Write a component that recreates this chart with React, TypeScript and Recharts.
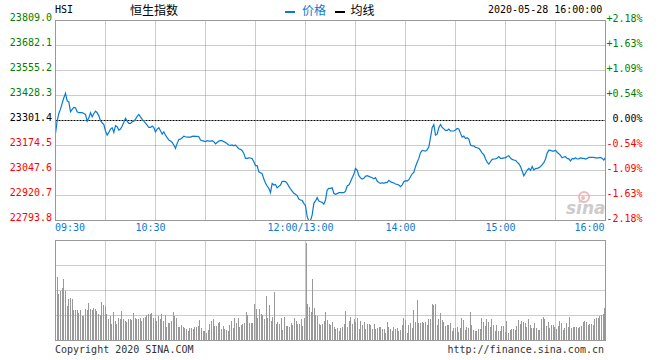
import React from 'react';
import { LineChart, Line, BarChart, Bar, XAxis, YAxis, CartesianGrid, ReferenceLine } from 'recharts';

const PREV_CLOSE = 23301.4;
const PRICE_TICKS = [22793.8, 22920.7, 23047.6, 23174.5, 23301.4, 23428.3, 23555.2, 23682.1, 23809.0];
const TIME_TICKS = [0, 60, 150, 210, 270, 330];
const TIME_LABELS: Record<number, string> = {
  0: '09:30', 60: '10:30', 150: '12:00/13:00', 210: '14:00', 270: '15:00', 330: '16:00',
};
// 30-minute grid columns, minutes after 09:30 (lunch break removed)
const GRID_MINUTES = [30, 60, 90, 120, 150, 180, 210, 240, 270, 300];
const SESSION_MINUTES = 330;

// one point per minute, 09:30 .. 12:00 / 13:00 .. 16:00
const PRICES = [
  23236, 23300, 23337, 23359, 23388, 23417, 23439, 23401, 23396, 23346,
  23358, 23368, 23366, 23346, 23341, 23341, 23341, 23337, 23332, 23298,
  23315, 23341, 23320, 23337, 23349, 23341, 23325, 23300, 23290, 23281,
  23248, 23227, 23241, 23258, 23265, 23241, 23275, 23270, 23253, 23258,
  23273, 23292, 23312, 23298, 23287, 23287, 23295, 23298, 23308, 23322,
  23332, 23320, 23307, 23298, 23288, 23278, 23266, 23266, 23273, 23265,
  23244, 23258, 23265, 23249, 23232, 23244, 23227, 23214, 23202, 23197,
  23190, 23177, 23160, 23185, 23205, 23207, 23214, 23222, 23219, 23217,
  23217, 23217, 23221, 23222, 23221, 23221, 23219, 23202, 23199, 23197,
  23194, 23199, 23197, 23197, 23199, 23194, 23183, 23190, 23197, 23199,
  23199, 23194, 23190, 23183, 23177, 23175, 23177, 23173, 23177, 23168,
  23158, 23155, 23148, 23134, 23109, 23109, 23112, 23111, 23107, 23092,
  23072, 23072, 23041, 23036, 23031, 23004, 22984, 22969, 22957, 22935,
  22982, 22974, 22977, 22960, 22967, 22974, 22992, 22992, 22991, 22982,
  22967, 22954, 22943, 22932, 22927, 22920, 22903, 22898, 22896, 22881,
  22869, 22813, 22791, 22793, 22822, 22881, 22893, 22910, 22893, 22889,
  22886, 22877, 22898, 22948, 22957, 22957, 22960, 22932, 22927, 22930,
  22935, 22935, 22935, 22935, 22943, 22969, 22974, 22991, 23011, 23028,
  23058, 23050, 23021, 23011, 23004, 23008, 23018, 23021, 23018, 23014,
  23011, 23006, 23011, 22994, 22987, 22982, 22986, 22982, 22987, 22986,
  22998, 22991, 22987, 22984, 22979, 22977, 22974, 22966, 22974, 22991,
  22996, 22994, 23001, 23016, 23031, 23038, 23067, 23089, 23109, 23138,
  23150, 23148, 23146, 23153, 23168, 23214, 23265, 23281, 23227, 23232,
  23265, 23281, 23266, 23259, 23251, 23251, 23258, 23249, 23248, 23248,
  23253, 23261, 23258, 23236, 23217, 23222, 23210, 23214, 23207, 23177,
  23173, 23173, 23165, 23163, 23160, 23150, 23136, 23128, 23106, 23090,
  23080, 23092, 23104, 23106, 23106, 23111, 23118, 23109, 23109, 23112,
  23112, 23119, 23123, 23111, 23104, 23101, 23099, 23090, 23082, 23068,
  23045, 23021, 23035, 23050, 23058, 23048, 23068, 23050, 23057, 23058,
  23062, 23068, 23077, 23087, 23106, 23136, 23151, 23150, 23146, 23146,
  23150, 23140, 23133, 23124, 23112, 23116, 23118, 23109, 23107, 23096,
  23109, 23106, 23112, 23106, 23107, 23112, 23109, 23109, 23106, 23109,
  23114, 23114, 23114, 23114, 23112, 23112, 23112, 23114, 23109, 23101,
  23114,
];

// per-minute volume, relative units (scale max = 100)
const VOLUMES = [
  64, 47, 50, 53, 62, 50, 35, 42, 43, 42,
  31, 31, 31, 28, 31, 25, 25, 32, 31, 38,
  32, 31, 33, 32, 30, 27, 26, 39, 36, 35,
  27, 22, 25, 17, 29, 20, 17, 23, 22, 30,
  22, 20, 19, 22, 22, 21, 28, 23, 22, 22,
  23, 20, 23, 24, 26, 27, 27, 28, 23, 23,
  20, 25, 22, 27, 20, 26, 14, 18, 18, 20,
  29, 25, 23, 14, 14, 16, 14, 13, 12, 10,
  13, 13, 12, 14, 14, 15, 21, 13, 10, 10,
  8, 11, 17, 20, 22, 15, 15, 18, 19, 12,
  15, 12, 11, 10, 16, 20, 13, 23, 18,
  23, 14, 16, 17, 18, 29, 26, 18, 18, 18,
  37, 32, 23, 32, 27, 26, 22, 45, 23, 36,
  20, 24, 49, 17, 19, 17, 23, 11, 24, 15,
  15, 14, 18, 16, 23, 20, 17, 17, 22, 15,
  23, 98, 37, 34, 29, 62, 33, 26, 25, 17,
  16, 17, 20, 29, 21, 17, 16, 19, 14, 12,
  13, 10, 13, 14, 17, 30, 14, 20, 24, 17,
  22, 19, 23, 12, 20, 16, 19, 12, 17, 17,
  16, 12, 17, 12, 13, 14, 14, 12, 12, 8,
  19, 14, 12, 10, 14, 12, 13, 10, 11, 16,
  23, 21, 8, 16, 18, 13, 31, 19, 41, 18,
  18, 19, 18, 19, 16, 22, 22, 37, 36, 37,
  16, 22, 28, 21, 19, 15, 16, 16, 18, 10,
  13, 13, 14, 9, 13, 23, 21, 11, 14, 13,
  29, 16, 11, 10, 10, 12, 12, 23, 19, 15,
  22, 19, 14, 22, 16, 10, 16, 10, 10, 15,
  15, 9, 20, 8, 11, 12, 12, 11, 15, 21,
  17, 20, 19, 18, 14, 22, 16, 13, 13, 18,
  13, 11, 11, 22, 24, 22, 15, 19, 13, 16,
  16, 14, 12, 15, 20, 18, 11, 13, 18, 14,
  24, 13, 14, 14, 14, 13, 14, 15, 19, 20,
  19, 16, 17, 17, 16, 22, 23, 23, 25, 26,
  27, 33,
];

const priceData = PRICES.map((p, i) => ({ i, p }));
const volData = VOLUMES.map((v, i) => ({ i, v }));

const MONO = '"DejaVu Sans Mono", "Liberation Mono", monospace';
const CJK = '"Noto Sans CJK SC", "Noto Sans", sans-serif';
const BLUE = '#0a7bd2';
const GRID = '#999';
const P_MIN = PRICE_TICKS[0];
const P_MAX = PRICE_TICKS[PRICE_TICKS.length - 1];

const colorOf = (v: number) => (Math.abs(v - PREV_CLOSE) < 0.05 ? '#000' : v > PREV_CLOSE ? '#008000' : '#ff0000');

const pctLabel = (v: number) => {
  const pct = ((v - PREV_CLOSE) / PREV_CLOSE) * 100;
  if (Math.abs(pct) < 0.005) return '0.00%';
  return `${pct > 0 ? '+' : '-'}${Math.abs(pct).toFixed(2)}%`;
};

const LeftTick = ({ x, y, payload }: any) => (
  <text x={x - 3.5} y={y + 0.5} textAnchor="end" fill={colorOf(payload.value)} fontFamily={MONO} fontSize={10}>
    {payload.value.toFixed(1)}
  </text>
);

const RightTick = ({ x, y, payload }: any) => (
  <text x={x + 37} y={y + 1} textAnchor="end" fill={colorOf(payload.value)} fontFamily={MONO} fontSize={10}>
    {pctLabel(payload.value)}
  </text>
);

const TimeTick = ({ x, y, payload }: any) => {
  const v = payload.value;
  const anchor = v === 0 ? 'start' : v === SESSION_MINUTES ? 'end' : 'middle';
  const dx = v === 0 ? -0.5 : v === SESSION_MINUTES ? -1 : -5;
  return (
    <text x={x + dx} y={y + 10.5} textAnchor={anchor} fill={BLUE} fontFamily={MONO} fontSize={10}>
      {TIME_LABELS[v]}
    </text>
  );
};

const vGrid = ({ offset }: any) => GRID_MINUTES.map((m) => offset.left + (offset.width * m) / SESSION_MINUTES);

const priceHGrid = ({ offset }: any) =>
  PRICE_TICKS.slice(1, -1)
    .filter((v) => v !== PREV_CLOSE)
    .map((v) => offset.top + (offset.height * (P_MAX - v)) / (P_MAX - P_MIN));

const volHGrid = ({ offset }: any) => [1, 2, 3].map((k) => offset.top + (offset.height * k) / 4);

const VolBar = ({ x, y, width, height, fill }: any) => (
  <rect x={x} y={y} width={width} height={height} fill={fill} shapeRendering="crispEdges" />
);

const box = (top: number, height: number): React.CSSProperties => ({
  position: 'absolute', left: 55, top, width: 551, height, border: '1px solid #999', boxSizing: 'border-box', pointerEvents: 'none',
});

export default function App() {
  return (
    <div style={{ position: 'absolute', left: 0, top: 0, width: 660, height: 360, background: '#fff', overflow: 'hidden' }}>
      <div style={{ position: 'absolute', left: 0, top: 0 }}>
        <LineChart width={660} height={241} data={priceData} margin={{ top: 20.5, right: 0.5, bottom: 0.5, left: 0.5 }}>
          <CartesianGrid
            yAxisId="price"
            stroke={GRID}
            strokeDasharray="1 1"
            verticalCoordinatesGenerator={vGrid}
            horizontalCoordinatesGenerator={priceHGrid}
          />
          <XAxis
            dataKey="i"
            type="number"
            domain={[0, SESSION_MINUTES]}
            ticks={TIME_TICKS}
            interval={0}
            height={20}
            tick={<TimeTick />}
            tickLine={false}
            axisLine={false}
            tickSize={0}
            tickMargin={0}
          />
          <YAxis
            yAxisId="price"
            domain={[P_MIN, P_MAX]}
            ticks={PRICE_TICKS}
            interval={0}
            width={55}
            tick={<LeftTick />}
            tickLine={false}
            axisLine={false}
            tickSize={0}
            tickMargin={0}
            allowDataOverflow
          />
          <YAxis
            yAxisId="pct"
            orientation="right"
            domain={[P_MIN, P_MAX]}
            ticks={PRICE_TICKS}
            interval={0}
            width={54}
            tick={<RightTick />}
            tickLine={false}
            axisLine={false}
            tickSize={0}
            tickMargin={0}
            allowDataOverflow
          />
          <ReferenceLine yAxisId="price" y={PREV_CLOSE} stroke="#000" strokeDasharray="2 1" />
          <Line
            yAxisId="price"
            type="linear"
            dataKey="p"
            stroke={BLUE}
            strokeWidth={1.2}
            dot={false}
            activeDot={false}
            isAnimationActive={false}
          />
        </LineChart>
      </div>

      <div style={{ position: 'absolute', left: 0, top: 240 }}>
        <BarChart width={660} height={101} data={volData} margin={{ top: 0.5, right: 54.5, bottom: 0.5, left: 55.5 }}>
          <CartesianGrid
            stroke={GRID}
            strokeDasharray="1 1"
            verticalCoordinatesGenerator={vGrid}
            horizontalCoordinatesGenerator={volHGrid}
          />
          <XAxis dataKey="i" type="number" domain={[-1.2, SESSION_MINUTES + 0.3]} hide />
          <YAxis domain={[0, 100]} hide allowDataOverflow />
          <Bar dataKey="v" fill="#999" barSize={1} shape={<VolBar />} isAnimationActive={false} />
        </BarChart>
      </div>

      <div style={box(20, 201)} />
      <div style={box(240, 101)} />

      <svg width={660} height={360} style={{ position: 'absolute', left: 0, top: 0, pointerEvents: 'none' }}>
        <text x={55} y={13} fontFamily={MONO} fontSize={10} fill="#000">HSI</text>
        <text x={130} y={15} fontFamily={CJK} fontSize={12} fill="#000">恒生指数</text>
        <rect x={285} y={11} width={10} height={2} fill={BLUE} />
        <text x={302} y={15} fontFamily={CJK} fontSize={12} fill={BLUE}>价格</text>
        <rect x={335} y={11} width={10} height={2} fill="#000" />
        <text x={350.5} y={15} fontFamily={CJK} fontSize={12} fill="#000">均线</text>
        <text x={488} y={13} fontFamily={MONO} fontSize={10} fill="#000">2020-05-28 16:00:00</text>
        <text x={55} y={353} fontFamily={MONO} fontSize={10} fill="#333">Copyright 2020 SINA.COM</text>
        <text x={604} y={353} textAnchor="end" fontFamily={MONO} fontSize={10} fill="#333">http://finance.sina.com.cn</text>
        <g opacity={0.8}>
          <circle cx={584} cy={197} r={5} fill="none" stroke="#f0a8a8" strokeWidth={2} />
          <circle cx={583} cy={198} r={2} fill="#f0a8a8" />
          <text x={566} y={214} fontFamily='"DejaVu Sans", sans-serif' fontSize={17} fontWeight="bold" fontStyle="italic" fill="#c0c0c0">
            sina
          </text>
        </g>
      </svg>
    </div>
  );
}
